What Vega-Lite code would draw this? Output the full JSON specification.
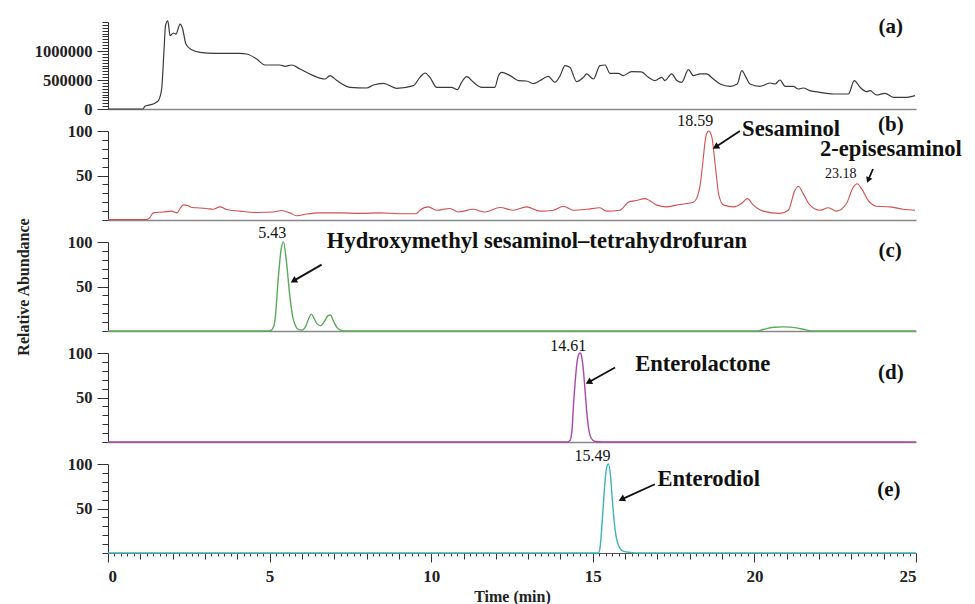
{
  "$schema": "https://vega.github.io/schema/vega-lite/v6.json",
  "padding": {"left": 15, "top": 14, "right": 0, "bottom": 0},
  "spacing": 22,
  "bounds": "flush",
  "config": {
    "font": "Liberation Serif",
    "view": {"stroke": null},
    "axis": {
      "grid": false,
      "labelFont": "Liberation Serif",
      "labelFontWeight": "bold",
      "labelFontSize": 16.5,
      "labelColor": "#222",
      "domainColor": "#333",
      "tickColor": "#333",
      "titleFont": "Liberation Serif",
      "titleFontWeight": "bold",
      "titleFontSize": 16,
      "titleColor": "#222",
      "labelOverlap": false
    },
    "text": {"font": "Liberation Serif", "color": "#111"}
  },
  "datasets": {
    "a": [
      {"t":0,"v":0},{"t":1.09,"v":0},{"t":1.14,"v":48000},{"t":1.3,"v":70000},{"t":1.45,"v":100000},{"t":1.56,"v":145000},{"t":1.66,"v":345000},{"t":1.73,"v":977000},{"t":1.78,"v":1440000},{"t":1.85,"v":1520000},{"t":1.92,"v":1265000},{"t":2.02,"v":1310000},{"t":2.1,"v":1290000},{"t":2.23,"v":1465000},{"t":2.31,"v":1380000},{"t":2.41,"v":1120000},{"t":2.59,"v":1020000},{"t":2.85,"v":977000},{"t":3.31,"v":960000},{"t":4.08,"v":960000},{"t":4.29,"v":948000},{"t":4.6,"v":862000},{"t":4.86,"v":759000},{"t":5.32,"v":759000},{"t":5.48,"v":736000},{"t":5.68,"v":759000},{"t":5.94,"v":690000},{"t":6.35,"v":575000},{"t":6.71,"v":517000},{"t":6.87,"v":575000},{"t":7.08,"v":490000},{"t":7.49,"v":374000},{"t":8.0,"v":362000},{"t":8.21,"v":414000},{"t":8.52,"v":443000},{"t":8.93,"v":357000},{"t":9.45,"v":403000},{"t":9.65,"v":546000},{"t":9.81,"v":621000},{"t":9.96,"v":546000},{"t":10.17,"v":374000},{"t":10.63,"v":374000},{"t":10.81,"v":334000},{"t":10.94,"v":460000},{"t":11.1,"v":558000},{"t":11.31,"v":460000},{"t":11.56,"v":374000},{"t":11.97,"v":374000},{"t":12.08,"v":575000},{"t":12.18,"v":633000},{"t":12.44,"v":575000},{"t":12.7,"v":490000},{"t":12.95,"v":483000},{"t":13.16,"v":438000},{"t":13.37,"v":490000},{"t":13.62,"v":563000},{"t":13.83,"v":460000},{"t":13.99,"v":575000},{"t":14.14,"v":748000},{"t":14.29,"v":719000},{"t":14.5,"v":472000},{"t":14.71,"v":546000},{"t":14.81,"v":604000},{"t":15.02,"v":517000},{"t":15.22,"v":748000},{"t":15.38,"v":759000},{"t":15.53,"v":615000},{"t":15.79,"v":615000},{"t":15.94,"v":575000},{"t":16.2,"v":645000},{"t":16.5,"v":640000},{"t":16.72,"v":546000},{"t":16.92,"v":490000},{"t":17.13,"v":546000},{"t":17.23,"v":490000},{"t":17.44,"v":604000},{"t":17.6,"v":490000},{"t":17.75,"v":460000},{"t":17.96,"v":679000},{"t":18.11,"v":575000},{"t":18.32,"v":604000},{"t":18.52,"v":604000},{"t":18.73,"v":517000},{"t":18.94,"v":431000},{"t":19.25,"v":391000},{"t":19.47,"v":431000},{"t":19.61,"v":662000},{"t":19.74,"v":546000},{"t":19.86,"v":431000},{"t":20.17,"v":391000},{"t":20.48,"v":448000},{"t":20.64,"v":431000},{"t":20.79,"v":500000},{"t":20.95,"v":391000},{"t":21.2,"v":391000},{"t":21.36,"v":345000},{"t":21.51,"v":362000},{"t":21.72,"v":317000},{"t":22.03,"v":288000},{"t":22.44,"v":259000},{"t":22.91,"v":259000},{"t":23.09,"v":490000},{"t":23.27,"v":374000},{"t":23.47,"v":300000},{"t":23.58,"v":317000},{"t":23.78,"v":241000},{"t":24.04,"v":271000},{"t":24.3,"v":202000},{"t":24.71,"v":200000},{"t":24.97,"v":231000}
    ],
    "b": [
      {"t":0,"v":0.5},{"t":1.2,"v":0.5},{"t":1.3,"v":3},{"t":1.4,"v":8},{"t":1.71,"v":9},{"t":1.97,"v":10},{"t":2.13,"v":8},{"t":2.25,"v":14},{"t":2.33,"v":17},{"t":2.48,"v":16},{"t":2.6,"v":14},{"t":2.74,"v":13.7},{"t":3.05,"v":13},{"t":3.25,"v":12},{"t":3.47,"v":14.8},{"t":3.67,"v":11.8},{"t":4.08,"v":10},{"t":4.6,"v":8.5},{"t":5.11,"v":9},{"t":5.37,"v":10.7},{"t":5.63,"v":8},{"t":5.84,"v":4.8},{"t":6.15,"v":6.7},{"t":6.56,"v":8},{"t":7.18,"v":8},{"t":7.8,"v":7.4},{"t":8.42,"v":8},{"t":9.0,"v":7},{"t":9.53,"v":7},{"t":9.65,"v":11},{"t":9.91,"v":14.8},{"t":10.16,"v":11},{"t":10.58,"v":12.9},{"t":10.84,"v":9},{"t":11.3,"v":12},{"t":11.66,"v":9},{"t":12.13,"v":14},{"t":12.54,"v":11},{"t":12.95,"v":14.8},{"t":13.37,"v":10},{"t":13.78,"v":11},{"t":14.09,"v":15.5},{"t":14.4,"v":11},{"t":14.81,"v":12},{"t":15.22,"v":13.7},{"t":15.42,"v":10},{"t":15.84,"v":11},{"t":16.1,"v":20},{"t":16.35,"v":22},{"t":16.61,"v":24},{"t":16.75,"v":22},{"t":16.98,"v":16.7},{"t":17.28,"v":14.8},{"t":17.59,"v":16.7},{"t":17.9,"v":18.5},{"t":18.11,"v":20},{"t":18.25,"v":28},{"t":18.32,"v":39},{"t":18.42,"v":70},{"t":18.48,"v":90},{"t":18.55,"v":99},{"t":18.59,"v":100},{"t":18.64,"v":98},{"t":18.69,"v":92},{"t":18.79,"v":61},{"t":18.9,"v":28},{"t":19.05,"v":16.7},{"t":19.36,"v":14.8},{"t":19.6,"v":18.5},{"t":19.78,"v":24},{"t":19.97,"v":16.7},{"t":20.27,"v":10},{"t":20.79,"v":7.4},{"t":21.05,"v":11},{"t":21.25,"v":33},{"t":21.36,"v":38},{"t":21.51,"v":29.6},{"t":21.72,"v":16.7},{"t":22.03,"v":11},{"t":22.29,"v":13.7},{"t":22.54,"v":10},{"t":22.85,"v":18.5},{"t":23.06,"v":37},{"t":23.18,"v":40.7},{"t":23.32,"v":35},{"t":23.52,"v":22},{"t":23.78,"v":15.5},{"t":24.2,"v":14.8},{"t":24.61,"v":12},{"t":24.97,"v":11}
    ],
    "c": [
      {"t":0,"v":0},{"t":5.0,"v":0},{"t":5.1,"v":3},{"t":5.17,"v":13},{"t":5.27,"v":60},{"t":5.35,"v":90},{"t":5.43,"v":100},{"t":5.52,"v":78},{"t":5.63,"v":38},{"t":5.72,"v":15},{"t":5.8,"v":6},{"t":5.9,"v":1.5},{"t":6.0,"v":1},{"t":6.1,"v":4},{"t":6.2,"v":13},{"t":6.29,"v":19},{"t":6.38,"v":14},{"t":6.47,"v":8},{"t":6.58,"v":6},{"t":6.7,"v":11},{"t":6.8,"v":17},{"t":6.88,"v":18},{"t":6.98,"v":11},{"t":7.08,"v":4},{"t":7.2,"v":1},{"t":7.3,"v":0},{"t":20.1,"v":0},{"t":20.3,"v":2},{"t":20.6,"v":4.2},{"t":20.9,"v":4.6},{"t":21.3,"v":3.5},{"t":21.6,"v":1.2},{"t":21.8,"v":0},{"t":25,"v":0}
    ],
    "d": [
      {"t":0,"v":0},{"t":14.2,"v":0},{"t":14.3,"v":2},{"t":14.36,"v":15},{"t":14.4,"v":40},{"t":14.45,"v":65},{"t":14.5,"v":86},{"t":14.56,"v":98},{"t":14.61,"v":100},{"t":14.66,"v":95},{"t":14.71,"v":80},{"t":14.76,"v":58},{"t":14.81,"v":35},{"t":14.86,"v":18},{"t":14.91,"v":8},{"t":15.0,"v":2},{"t":15.1,"v":0.5},{"t":15.3,"v":0},{"t":25,"v":0}
    ],
    "e": [
      {"t":0,"v":0},{"t":15.17,"v":0},{"t":15.22,"v":5},{"t":15.3,"v":40},{"t":15.36,"v":72},{"t":15.41,"v":92},{"t":15.46,"v":99.5},{"t":15.49,"v":100},{"t":15.55,"v":86},{"t":15.6,"v":62},{"t":15.66,"v":36},{"t":15.72,"v":19},{"t":15.79,"v":9},{"t":15.87,"v":4},{"t":15.94,"v":2},{"t":16.1,"v":0.8},{"t":16.3,"v":0},{"t":25,"v":0}
    ]
  },
  "vconcat": [
    {
      "width": 808, "height": 87,
      "layer": [
        {
          "data": {"name": "a"},
          "mark": {"type": "line", "color": "#3a3a3a", "strokeWidth": 1.2, "interpolate": "monotone"},
          "encoding": {
            "x": {"field": "t", "type": "quantitative", "scale": {"domain": [0, 25], "nice": false, "zero": false},
                  "axis": {"title": null, "ticks": false, "labels": false, "domainColor": "#888", "domainWidth": 1.5}},
            "y": {"field": "v", "type": "quantitative", "scale": {"domain": [0, 1500000], "nice": false},
                  "axis": {"title": null, "format": "d", "labelOverlap": false, "tickCount": 200,
                           "values": [0,50000,100000,150000,200000,250000,300000,350000,400000,450000,500000,550000,600000,650000,700000,750000,800000,850000,900000,950000,1000000,1050000,1100000,1150000,1200000,1250000,1300000,1350000,1400000,1450000,1500000],
                           "labelExpr": "(datum.value % 500000 === 0 && datum.value < 1400000) ? datum.label : ''",
                           "tickSize": {"condition": {"test": "datum.value % 500000 === 0 && datum.value < 1400000", "value": 11}, "value": 6},
                           "labelPadding": 5}}
          }
        },
        {
          "data": {"values": [{"t": 24.22, "v": 1409000, "label": "(a)"}]},
          "mark": {"type": "text", "fontWeight": "bold", "fontSize": 21, "align": "center", "baseline": "middle"},
          "encoding": {"x": {"field": "t", "type": "quantitative"}, "y": {"field": "v", "type": "quantitative"}, "text": {"field": "label"}}
        }
      ]
    },
    {
      "width": 808, "height": 89,
      "layer": [
        {
          "data": {"name": "b"},
          "mark": {"type": "line", "color": "#d2504e", "strokeWidth": 1.1, "interpolate": "monotone"},
          "encoding": {
            "x": {"field": "t", "type": "quantitative", "scale": {"domain": [0, 25], "nice": false, "zero": false},
                  "axis": {"title": null, "ticks": false, "labels": false, "domainColor": "#888", "domainWidth": 1.5}},
            "y": {"field": "v", "type": "quantitative", "scale": {"domain": [0, 100], "nice": false},
                  "axis": {"title": null, "format": "d", "labelOverlap": false, "tickCount": 200, "values": [0,10,20,30,40,50,60,70,80,90,100],
                           "labelExpr": "(datum.value === 50 || datum.value === 100) ? datum.label : ''",
                           "tickSize": {"condition": {"test": "datum.value === 50 || datum.value === 100", "value": 11}, "value": 6},
                           "labelPadding": 5}}
          }
        },
        {
          "data": {"values": [{"t": 19.55, "v": 100, "t2": 18.8, "v2": 82}, {"t": 23.67, "v": 57.3, "t2": 23.52, "v2": 44.8}]},
          "mark": {"type": "rule", "color": "#111", "strokeWidth": 1.8},
          "encoding": {"x": {"field": "t", "type": "quantitative"}, "y": {"field": "v", "type": "quantitative"}, "x2": {"field": "t2"}, "y2": {"field": "v2"}}
        },
        {
          "data": {"values": [{"t": 18.8, "v": 82}]},
          "mark": {"type": "point", "shape": "triangle-up", "filled": true, "color": "#111", "opacity": 1, "size": 55, "angle": 238.5},
          "encoding": {"x": {"field": "t", "type": "quantitative"}, "y": {"field": "v", "type": "quantitative"}}
        },
        {
          "data": {"values": [{"t": 23.52, "v": 44.8}]},
          "mark": {"type": "point", "shape": "triangle-up", "filled": true, "color": "#111", "opacity": 1, "size": 45, "angle": 202.8},
          "encoding": {"x": {"field": "t", "type": "quantitative"}, "y": {"field": "v", "type": "quantitative"}}
        },
        {
          "data": {"values": [{"t": 18.17, "v": 111, "label": "18.59"}]},
          "mark": {"type": "text", "fontSize": 16, "align": "center", "baseline": "middle"},
          "encoding": {"x": {"field": "t", "type": "quantitative"}, "y": {"field": "v", "type": "quantitative"}, "text": {"field": "label"}}
        },
        {
          "data": {"values": [{"t": 22.67, "v": 51.8, "label": "23.18"}]},
          "mark": {"type": "text", "fontSize": 14, "align": "center", "baseline": "middle"},
          "encoding": {"x": {"field": "t", "type": "quantitative"}, "y": {"field": "v", "type": "quantitative"}, "text": {"field": "label"}}
        },
        {
          "data": {"values": [{"t": 19.62, "v": 101.8, "label": "Sesaminol"}, {"t": 22.03, "v": 79.6, "label": "2-episesaminol"}]},
          "mark": {"type": "text", "fontWeight": "bold", "fontSize": 22.6, "align": "left", "baseline": "middle"},
          "encoding": {"x": {"field": "t", "type": "quantitative"}, "y": {"field": "v", "type": "quantitative"}, "text": {"field": "label"}}
        },
        {
          "data": {"values": [{"t": 24.22, "v": 107.3, "label": "(b)"}]},
          "mark": {"type": "text", "fontWeight": "bold", "fontSize": 21, "align": "center", "baseline": "middle"},
          "encoding": {"x": {"field": "t", "type": "quantitative"}, "y": {"field": "v", "type": "quantitative"}, "text": {"field": "label"}}
        }
      ]
    },
    {
      "width": 808, "height": 89,
      "layer": [
        {
          "data": {"name": "c"},
          "mark": {"type": "line", "color": "#5aaa5a", "strokeWidth": 1.4, "interpolate": "monotone"},
          "encoding": {
            "x": {"field": "t", "type": "quantitative", "scale": {"domain": [0, 25], "nice": false, "zero": false},
                  "axis": {"title": null, "ticks": false, "labels": false, "domainColor": "#888", "domainWidth": 1.5}},
            "y": {"field": "v", "type": "quantitative", "scale": {"domain": [0, 100], "nice": false},
                  "axis": {"title": "Relative Abundance", "titlePadding": 36, "format": "d", "labelOverlap": false, "tickCount": 200, "values": [0,10,20,30,40,50,60,70,80,90,100],
                           "labelExpr": "(datum.value === 50 || datum.value === 100) ? datum.label : ''",
                           "tickSize": {"condition": {"test": "datum.value === 50 || datum.value === 100", "value": 11}, "value": 6},
                           "labelPadding": 5}}
          }
        },
        {
          "data": {"values": [{"t": 6.61, "v": 74.6, "t2": 5.74, "v2": 56.3}]},
          "mark": {"type": "rule", "color": "#111", "strokeWidth": 1.8},
          "encoding": {"x": {"field": "t", "type": "quantitative"}, "y": {"field": "v", "type": "quantitative"}, "x2": {"field": "t2"}, "y2": {"field": "v2"}}
        },
        {
          "data": {"values": [{"t": 5.74, "v": 56.3}]},
          "mark": {"type": "point", "shape": "triangle-up", "filled": true, "color": "#111", "opacity": 1, "size": 55, "angle": 240},
          "encoding": {"x": {"field": "t", "type": "quantitative"}, "y": {"field": "v", "type": "quantitative"}}
        },
        {
          "data": {"values": [{"t": 5.08, "v": 110, "label": "5.43"}]},
          "mark": {"type": "text", "fontSize": 16, "align": "center", "baseline": "middle"},
          "encoding": {"x": {"field": "t", "type": "quantitative"}, "y": {"field": "v", "type": "quantitative"}, "text": {"field": "label"}}
        },
        {
          "data": {"values": [{"t": 6.77, "v": 100.8, "label": "Hydroxymethyl sesaminol–tetrahydrofuran"}]},
          "mark": {"type": "text", "fontWeight": "bold", "fontSize": 22.6, "align": "left", "baseline": "middle"},
          "encoding": {"x": {"field": "t", "type": "quantitative"}, "y": {"field": "v", "type": "quantitative"}, "text": {"field": "label"}}
        },
        {
          "data": {"values": [{"t": 24.2, "v": 89.6, "label": "(c)"}]},
          "mark": {"type": "text", "fontWeight": "bold", "fontSize": 21, "align": "center", "baseline": "middle"},
          "encoding": {"x": {"field": "t", "type": "quantitative"}, "y": {"field": "v", "type": "quantitative"}, "text": {"field": "label"}}
        }
      ]
    },
    {
      "width": 808, "height": 89,
      "layer": [
        {
          "data": {"name": "d"},
          "mark": {"type": "line", "color": "#a64aa6", "strokeWidth": 1.4, "interpolate": "monotone"},
          "encoding": {
            "x": {"field": "t", "type": "quantitative", "scale": {"domain": [0, 25], "nice": false, "zero": false},
                  "axis": {"title": null, "ticks": false, "labels": false, "domainColor": "#888", "domainWidth": 1.5}},
            "y": {"field": "v", "type": "quantitative", "scale": {"domain": [0, 100], "nice": false},
                  "axis": {"title": null, "format": "d", "labelOverlap": false, "tickCount": 200, "values": [0,10,20,30,40,50,60,70,80,90,100],
                           "labelExpr": "(datum.value === 50 || datum.value === 100) ? datum.label : ''",
                           "tickSize": {"condition": {"test": "datum.value === 50 || datum.value === 100", "value": 11}, "value": 6},
                           "labelPadding": 5}}
          }
        },
        {
          "data": {"values": [{"t": 15.69, "v": 83.7, "t2": 14.87, "v2": 67.1}]},
          "mark": {"type": "rule", "color": "#111", "strokeWidth": 1.8},
          "encoding": {"x": {"field": "t", "type": "quantitative"}, "y": {"field": "v", "type": "quantitative"}, "x2": {"field": "t2"}, "y2": {"field": "v2"}}
        },
        {
          "data": {"values": [{"t": 14.87, "v": 67.1}]},
          "mark": {"type": "point", "shape": "triangle-up", "filled": true, "color": "#111", "opacity": 1, "size": 55, "angle": 241},
          "encoding": {"x": {"field": "t", "type": "quantitative"}, "y": {"field": "v", "type": "quantitative"}}
        },
        {
          "data": {"values": [{"t": 14.24, "v": 108.3, "label": "14.61"}]},
          "mark": {"type": "text", "fontSize": 16, "align": "center", "baseline": "middle"},
          "encoding": {"x": {"field": "t", "type": "quantitative"}, "y": {"field": "v", "type": "quantitative"}, "text": {"field": "label"}}
        },
        {
          "data": {"values": [{"t": 16.31, "v": 87.6, "label": "Enterolactone"}]},
          "mark": {"type": "text", "fontWeight": "bold", "fontSize": 22.6, "align": "left", "baseline": "middle"},
          "encoding": {"x": {"field": "t", "type": "quantitative"}, "y": {"field": "v", "type": "quantitative"}, "text": {"field": "label"}}
        },
        {
          "data": {"values": [{"t": 24.22, "v": 78, "label": "(d)"}]},
          "mark": {"type": "text", "fontWeight": "bold", "fontSize": 21, "align": "center", "baseline": "middle"},
          "encoding": {"x": {"field": "t", "type": "quantitative"}, "y": {"field": "v", "type": "quantitative"}, "text": {"field": "label"}}
        }
      ]
    },
    {
      "width": 808, "height": 89,
      "layer": [
        {
          "data": {"name": "e"},
          "mark": {"type": "line", "color": "#3fb3b8", "strokeWidth": 1.4, "interpolate": "monotone"},
          "encoding": {
            "x": {"field": "t", "type": "quantitative", "scale": {"domain": [0, 25], "nice": false, "zero": false},
                  "axis": {"title": "Time (min)", "ticks": true, "tickCount": 500, "labelOverlap": false, "domainColor": "#555", "domainWidth": 1.2,
                           "values": [0,0.2,0.4,0.6,0.8,1,1.2,1.4,1.6,1.8,2,2.2,2.4,2.6,2.8,3,3.2,3.4,3.6,3.8,4,4.2,4.4,4.6,4.8,5,5.2,5.4,5.6,5.8,6,6.2,6.4,6.6,6.8,7,7.2,7.4,7.6,7.8,8,8.2,8.4,8.6,8.8,9,9.2,9.4,9.6,9.8,10,10.2,10.4,10.6,10.8,11,11.2,11.4,11.6,11.8,12,12.2,12.4,12.6,12.8,13,13.2,13.4,13.6,13.8,14,14.2,14.4,14.6,14.8,15,15.2,15.4,15.6,15.8,16,16.2,16.4,16.6,16.8,17,17.2,17.4,17.6,17.8,18,18.2,18.4,18.6,18.8,19,19.2,19.4,19.6,19.8,20,20.2,20.4,20.6,20.8,21,21.2,21.4,21.6,21.8,22,22.2,22.4,22.6,22.8,23,23.2,23.4,23.6,23.8,24,24.2,24.4,24.6,24.8,25],
                           "labelExpr": "(datum.value % 5 === 0) ? format(datum.value, 'd') : ''",
                           "tickSize": {"condition": [
                             {"test": "datum.value % 5 === 0", "value": 9},
                             {"test": "datum.value % 1 === 0", "value": 6}
                           ], "value": 3},
                           "labelPadding": 6, "titlePadding": 4, "labelFontSize": 17}},
            "y": {"field": "v", "type": "quantitative", "scale": {"domain": [0, 100], "nice": false},
                  "axis": {"title": null, "format": "d", "labelOverlap": false, "tickCount": 200, "values": [0,10,20,30,40,50,60,70,80,90,100],
                           "labelExpr": "(datum.value === 50 || datum.value === 100) ? datum.label : ''",
                           "tickSize": {"condition": {"test": "datum.value === 50 || datum.value === 100", "value": 11}, "value": 6},
                           "labelPadding": 5}}
          }
        },
        {
          "data": {"values": [{"t": 16.92, "v": 77.3, "t2": 15.89, "v2": 60.3}]},
          "mark": {"type": "rule", "color": "#111", "strokeWidth": 1.8},
          "encoding": {"x": {"field": "t", "type": "quantitative"}, "y": {"field": "v", "type": "quantitative"}, "x2": {"field": "t2"}, "y2": {"field": "v2"}}
        },
        {
          "data": {"values": [{"t": 15.89, "v": 60.3}]},
          "mark": {"type": "point", "shape": "triangle-up", "filled": true, "color": "#111", "opacity": 1, "size": 55, "angle": 245.3},
          "encoding": {"x": {"field": "t", "type": "quantitative"}, "y": {"field": "v", "type": "quantitative"}}
        },
        {
          "data": {"values": [{"t": 14.99, "v": 108.6, "label": "15.49"}]},
          "mark": {"type": "text", "fontSize": 16, "align": "center", "baseline": "middle"},
          "encoding": {"x": {"field": "t", "type": "quantitative"}, "y": {"field": "v", "type": "quantitative"}, "text": {"field": "label"}}
        },
        {
          "data": {"values": [{"t": 17.0, "v": 82.9, "label": "Enterodiol"}]},
          "mark": {"type": "text", "fontWeight": "bold", "fontSize": 22.6, "align": "left", "baseline": "middle"},
          "encoding": {"x": {"field": "t", "type": "quantitative"}, "y": {"field": "v", "type": "quantitative"}, "text": {"field": "label"}}
        },
        {
          "data": {"values": [{"t": 24.16, "v": 70.6, "label": "(e)"}]},
          "mark": {"type": "text", "fontWeight": "bold", "fontSize": 21, "align": "center", "baseline": "middle"},
          "encoding": {"x": {"field": "t", "type": "quantitative"}, "y": {"field": "v", "type": "quantitative"}, "text": {"field": "label"}}
        }
      ]
    }
  ]
}
